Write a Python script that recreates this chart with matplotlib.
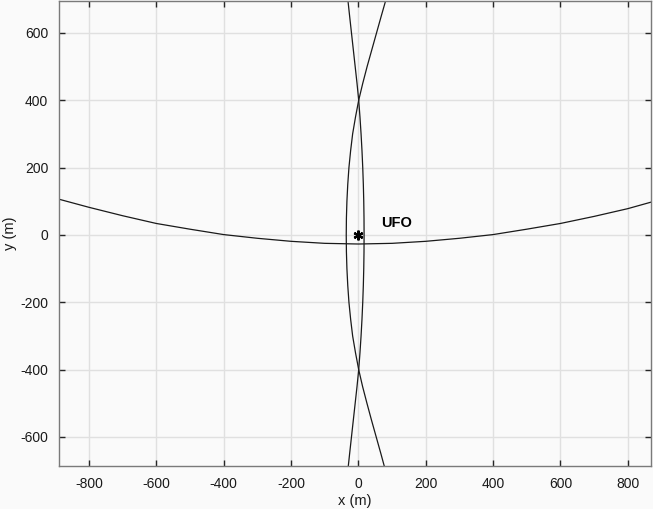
import matplotlib
matplotlib.use('Agg')
import matplotlib.pyplot as plt

plt.rcParams['font.family'] = ['Liberation Sans', 'DejaVu Sans']
plt.rcParams['axes.unicode_minus'] = False

# curve: near-horizontal branch
h_x = [-900, -800, -700, -600, -500, -400, -300, -200, -100, 0,
       100, 200, 300, 400, 500, 600, 700, 800, 900]
h_y = [109, 82, 57, 34, 17, 1, -10, -19, -25, -27,
       -25, -19, -10, 1, 17, 34, 55, 78, 106]

# two near-vertical branches (x as a function of y)
v_y = [-720, -650, -600, -550, -500, -450, -400, -350, -300, -250, -200,
       -150, -100, -50, 0, 50, 100, 150, 200, 250, 300, 350, 400, 450,
       500, 550, 600, 650, 720]
a_x = [-33.5, -26, -20.5, -15, -9.5, -4, 1, 4.75, 8, 10.75, 13,
       14.75, 16, 16.75, 17, 16.75, 16, 14.75, 13, 10.75, 8, 4.75, 1, -4,
       -9.5, -15, -20.5, -26, -33.5]
b_x = [86, 67, 53, 39, 25.5, 12.5, 1, -8.5, -17, -23, -28,
       -31.5, -34, -35.5, -36, -35.5, -34, -31.5, -28, -23, -17, -8.5, 1, 13,
       26, 40, 54, 68, 88]

ufo_x, ufo_y = 0, 0
label = 'UFO'

bg = '#fafafa'
fig = plt.figure(figsize=(6.53, 5.09), dpi=100, facecolor=bg)
ax = fig.add_axes([0.0908, 0.0839, 0.9062, 0.9151], facecolor=bg)

ax.plot(h_x, h_y, color='#1a1a1a', lw=0.9)
ax.plot(a_x, v_y, color='#1a1a1a', lw=0.9)
ax.plot(b_x, v_y, color='#1a1a1a', lw=0.9)
ax.plot(ufo_x, ufo_y, marker=(6, 2, 0), color='#000000', ms=7, mew=1.6,
        linestyle='none')
ax.text(69, 34, label, fontsize=10.5, fontweight='bold', ha='left', va='center')

ax.set_xlim(-888, 869)
ax.set_ylim(-687, 696)
ax.set_xticks(range(-800, 801, 200))
ax.set_yticks(range(-600, 601, 200))
ax.grid(True, color='#e0e0e0', lw=1.0)
ax.set_axisbelow(True)
ax.tick_params(direction='in', length=4, width=1, color='#262626',
               labelsize=10, top=True, right=True, pad=8, labelcolor='#1a1a1a')
for s in ax.spines.values():
    s.set_color('#7a7a7a')
    s.set_linewidth(1.0)

ax.set_xlabel('x (m)', fontsize=10.5, labelpad=2, color='#1a1a1a')
ax.set_ylabel('y (m)', fontsize=10.5, labelpad=2, color='#1a1a1a')

fig.savefig('out.png', dpi=100, facecolor=bg)
